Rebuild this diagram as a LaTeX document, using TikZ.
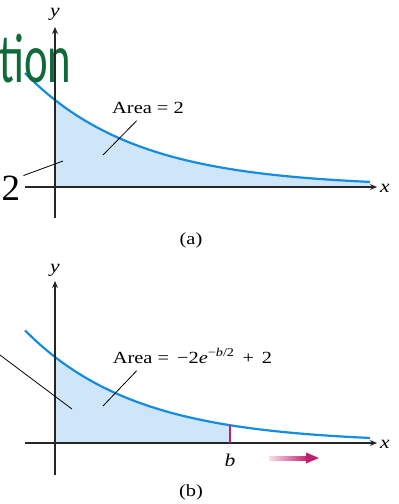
\documentclass[tikz,border=0pt]{standalone}
\usepackage{fontspec}
\setmainfont{Liberation Serif}
\newfontfamily\lblfont[FakeStretch=1.2]{Liberation Serif}
\newfontfamily\ttlfont[FakeStretch=0.64]{Carlito}
\usetikzlibrary{arrows.meta}
\definecolor{crvblue}{HTML}{148CE1}
\definecolor{areablue}{HTML}{CFE5F8}
\definecolor{ttlgreen}{HTML}{0E6B38}
\definecolor{bmag}{HTML}{C21E6E}
\definecolor{bpink}{HTML}{F8E0EA}

\begin{document}
\begin{tikzpicture}[x=1pt,y=-1pt,>={Stealth[length=7pt,width=6pt]}]
\tikzset{
 ax/.style={->,line width=1.2pt,draw=black!85},
 crv/.style={line width=2.2pt,draw=crvblue},
 lbl/.style={font=\lblfont\fontsize{17}{20}\selectfont,inner sep=0pt},
 var/.style={font=\lblfont\itshape\fontsize{18}{20}\selectfont,inner sep=0pt},
 lead/.style={line width=0.8pt}
}
\useasboundingbox (0,0) rectangle (399,504);
% (a)
\fill[areablue] (55,187) -- plot[domain=55:370,samples=60] (\x,{187-87*exp(-0.009*(\x-55))}) -- (370,187) -- cycle;
\draw[crv] plot[domain=25:370,samples=80] (\x,{187-87*exp(-0.009*(\x-55))});
\node[anchor=base west,inner sep=0pt,text=ttlgreen,font=\ttlfont\fontsize{70}{80}\selectfont] (ttl) at (-1,82) {tion};
\coordinate (xa0) at (25,187);
\coordinate (xa1) at (377,187);
\coordinate (ya0) at (55,218);
\coordinate (ya1) at (55,27);
\draw[ax] (xa0) -- (xa1);
\draw[ax] (ya0) -- (ya1);
\node[var,anchor=west] (xa) at (380,188) {x};
\node[var] (ya) at (55,14) {y};
\node[lbl,anchor=base] (areaa) at (148,113.3) {Area = 2};
\coordinate (pa) at (103,155);
\coordinate (qa) at (136.7,120.7);
\draw[lead] (qa) -- (pa);
\node[inner sep=0pt,font=\fontsize{37}{40}\selectfont] (two) at (11,188) {2};
\coordinate (ta) at (63,161);
\draw[lead] (two.north east) ++(3,0) coordinate (ta0) (ta0) -- (ta);
\node[lbl] (capa) at (191,240) {(a)};
% (b)
\fill[areablue] (55,443) -- plot[domain=55:230,samples=40] (\x,{443-86*exp(-0.009*(\x-55))}) -- (230,443) -- cycle;
\draw[crv] plot[domain=25:370,samples=80] (\x,{443-86*exp(-0.009*(\x-55))});
\coordinate (xb0) at (25,443);
\coordinate (xb1) at (377,443);
\coordinate (yb0) at (55,475);
\coordinate (yb1) at (55,281);
\draw[ax] (xb0) -- (xb1);
\draw[ax] (yb0) -- (yb1);
\node[var,anchor=west] (xb) at (380,444) {x};
\node[var] (yb) at (55,270) {y};
\coordinate (bb) at (230,443);
\coordinate (bt) at (230,{443-86*exp(-0.009*175)});
\draw[line width=1.2pt,draw=bmag] (bb) -- (bt);
\node[var] (blbl) at (230,460) {b};
\node[lbl,anchor=base west] (areab) at (112.7,363) {Area =\, −2\textit{e}\textsuperscript{−\textit{b}/2}\, +\, 2};
\coordinate (pb) at (103,406);
\coordinate (qb) at (136.7,370.7);
\draw[lead] (qb) -- (pb);
\coordinate (lb0) at (0,355);
\coordinate (lb1) at (72,409);
\draw[lead] (lb0) -- (lb1);
\shade[left color=bpink,right color=bmag] (269,456) rectangle (308,460);
\fill[bmag] (306,452.5) -- (319,458) -- (306,463.5) -- cycle;
\node[lbl] (capb) at (191,492) {(b)};
\end{tikzpicture}
\end{document}
